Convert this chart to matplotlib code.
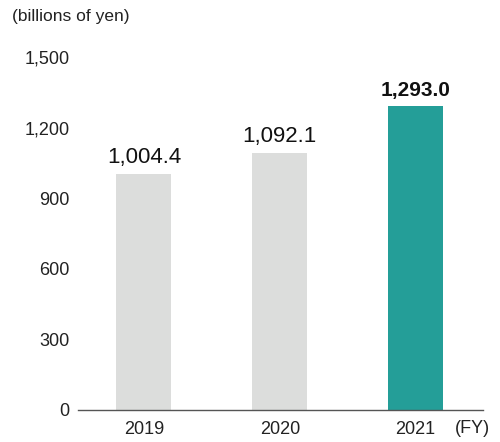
import matplotlib.pyplot as plt

plt.rcParams['font.family'] = ['Liberation Sans', 'DejaVu Sans']

years = ['2019', '2020', '2021']
values = [1004.4, 1092.1, 1293.0]
value_labels = ['1,004.4', '1,092.1', '1,293.0']
colors = ['#dcdddc', '#dcdddc', '#249e98']
yticks = [0, 300, 600, 900, 1200, 1500]
ytick_labels = ['0', '300', '600', '900', '1,200', '1,500']

fig = plt.figure(figsize=(5, 4.42), dpi=100)
ax = fig.add_axes([0.156, 0.0724, 0.81, 0.7986])

x = range(len(years))
ax.bar(x, values, width=0.405, color=colors)

ax.set_xlim(-0.486, 2.497)
ax.set_ylim(0, 1500)
ax.set_xticks(list(x))
ax.set_xticklabels(years, fontsize=13, color='#222222')
ax.set_yticks(yticks)
ax.set_yticklabels(ytick_labels, fontsize=13, color='#222222')
ax.tick_params(axis='both', length=0)
ax.tick_params(axis='y', pad=6)
ax.tick_params(axis='x', pad=8)

for s in ['top', 'right', 'left']:
    ax.spines[s].set_visible(False)
ax.spines['bottom'].set_color('#555555')
ax.spines['bottom'].set_linewidth(1.0)

for i, (v, lab) in enumerate(zip(values, value_labels)):
    bold = i == len(values) - 1
    ax.annotate(lab, (i, v), xytext=(0, 4 if bold else 4), textcoords='offset points',
                ha='center', va='bottom', fontsize=15 if bold else 16,
                fontweight='bold' if bold else 'normal', color='#111111')

fig.text(0.024, 0.962, '(billions of yen)', fontsize=12.5, ha='left', va='center', color='#222222')
fig.text(0.98, 0.031, '(FY)', fontsize=13, ha='right', va='center', color='#222222')

fig.savefig('out.png', dpi=100)
